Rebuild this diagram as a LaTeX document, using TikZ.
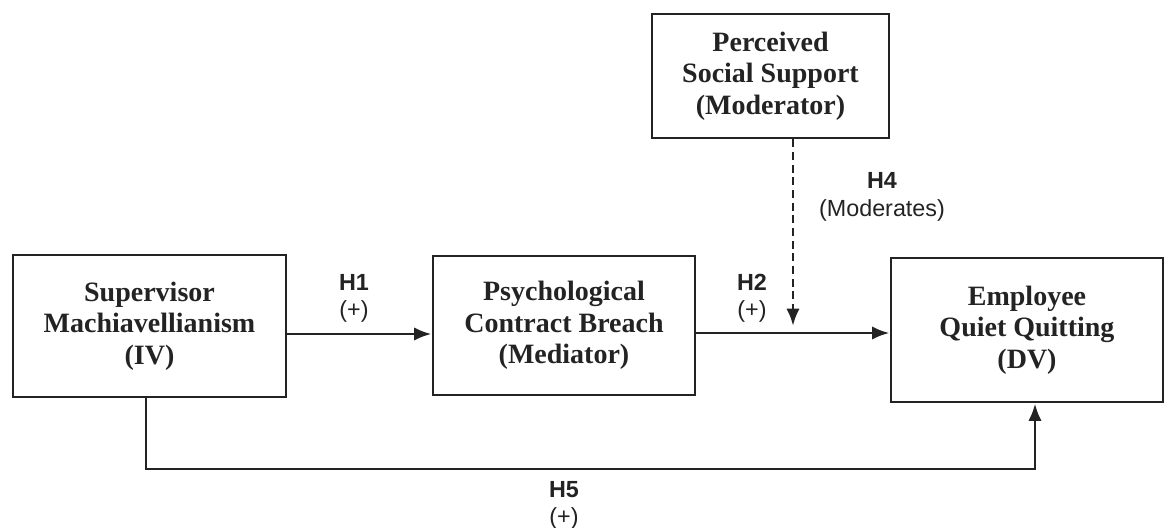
\documentclass[tikz,border=0pt]{standalone}
\usepackage{fontspec}
\setmainfont{Liberation Serif}
\newfontfamily\hfont{Liberation Sans}
\usetikzlibrary{arrows.meta}

\definecolor{ink}{RGB}{35,35,35}

\tikzset{every picture/.style={line width=0.75pt}}
\tikzset{
  varbox/.style={draw=ink, line width=2.2pt, align=center, inner sep=0pt,
    text=ink, font=\fontsize{21}{23.5}\selectfont\bfseries},
  hyplabel/.style={align=center, inner sep=0pt, text=ink,
    font=\hfont\fontsize{17.5}{20.5}\selectfont},
  link/.style={draw=ink, line width=2.2pt, -{Latex[length=13pt,width=10pt]}},
}

\begin{document}
\begin{tikzpicture}[x=0.75pt,y=0.75pt,yscale=-1,xscale=1]

\useasboundingbox (0,0) rectangle (1165,528);

% variables
\node [varbox, minimum width=273*0.75pt, minimum height=142*0.75pt] (iv) at (149.5,326) {Supervisor\\Machiavellianism\\(IV)};
\node [varbox, minimum width=262*0.75pt, minimum height=139*0.75pt] (med) at (564,325.5) {Psychological\\Contract Breach\\(Mediator)};
\node [varbox, minimum width=272*0.75pt, minimum height=144*0.75pt] (dv) at (1027,330) {Employee\\Quiet Quitting\\(DV)};
\node [varbox, minimum width=237*0.75pt, minimum height=124*0.75pt] (mod) at (770.5,76) {Perceived\\Social Support\\(Moderator)};

% helper points
\coordinate (hit) at (793,326);
\coordinate (low) at (146,469);

% paths
\draw [link] (iv.east |- 0,334) -- (med.west |- 0,334);
\draw [link] (med.east |- 0,333) -- (dv.west |- 0,333);
\draw [link, dashed, dash pattern=on 6pt off 3.5pt] (mod.south -| hit) -- (hit);
\draw [link] (iv.south -| low) -- (low) -| (dv.south -| 1035,0);

% hypotheses
\node [hyplabel] (h1) at (354,298.5) {\textbf{H1}\\(+)};
\node [hyplabel] (h2) at (752,298.5) {\textbf{H2}\\(+)};
\node [hyplabel] (h4) at (882,197) {\textbf{H4}\\(Moderates)};
\node [hyplabel] (h5) at (564,505.5) {\textbf{H5}\\(+)};

\end{tikzpicture}
\end{document}
